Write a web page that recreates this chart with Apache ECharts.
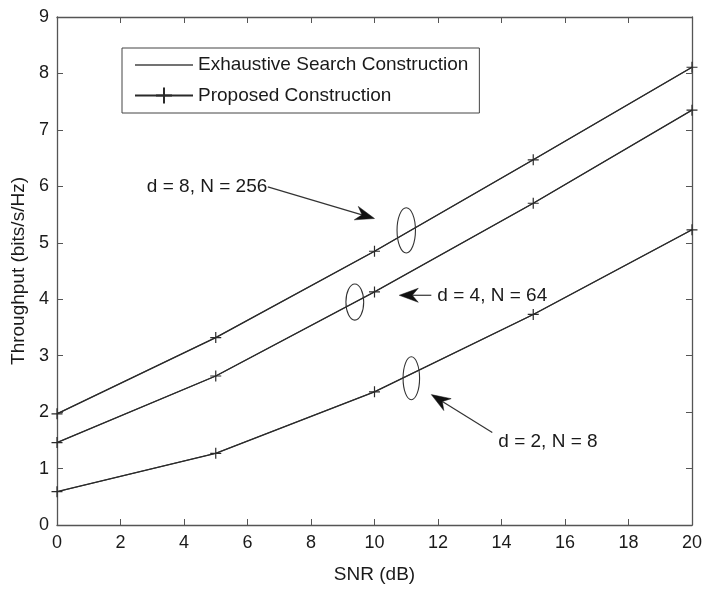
<!DOCTYPE html>
<html>
<head>
<meta charset="utf-8">
<script src="https://cdn.jsdelivr.net/npm/echarts@6/dist/echarts.min.js"></script>
<style>
  html, body { margin: 0; padding: 0; background: #fff; }
  #chart { width: 705px; height: 589px; }
</style>
</head>
<body>
<div id="chart"></div>
<script>
// SNR sample points (dB)
const snr = [0, 5, 10, 15, 20];

// Throughput (bits/s/Hz) for each (d, N) configuration
const exhaustiveD8 = [1.97, 3.32, 4.85, 6.47, 8.11];
const exhaustiveD4 = [1.46, 2.64, 4.13, 5.70, 7.35];
const exhaustiveD2 = [0.59, 1.27, 2.36, 3.73, 5.23];
const proposedD8 = [1.97, 3.32, 4.85, 6.47, 8.11];
const proposedD4 = [1.46, 2.64, 4.13, 5.70, 7.35];
const proposedD2 = [0.59, 1.27, 2.36, 3.73, 5.23];

const xTicks = [0, 2, 4, 6, 8, 10, 12, 14, 16, 18, 20];
const yTicks = [0, 1, 2, 3, 4, 5, 6, 7, 8, 9];

const exhaustiveName = 'Exhaustive Search Construction';
const proposedName = 'Proposed Construction';

// Annotation layout in data coordinates: ellipse groups, labels and arrows
const ellipses = [
  { c: [11.0, 5.22], rx: 0.29, ry: 0.40 },
  { c: [9.38, 3.95], rx: 0.28, ry: 0.32 },
  { c: [11.16, 2.60], rx: 0.26, ry: 0.38 }
];
const labels = [
  { text: 'd = 8, N = 256', at: [2.83, 5.99] },
  { text: 'd = 4, N = 64', at: [11.98, 4.07] },
  { text: 'd = 2, N = 8', at: [13.90, 1.47] }
];
const arrows = [
  { from: [6.64, 5.99], to: [10.0, 5.43] },
  { from: [11.79, 4.07], to: [10.78, 4.07] },
  { from: [13.71, 1.64], to: [11.79, 2.31] }
];

const pair = (ys) => snr.map((x, i) => [x, ys[i]]);
const plusSymbol = 'path://M0,-5L0,5M-5,0L5,0';
// plain line sample for the legend entry without markers
const lineIcon = 'path://M0,9.2L58,9.2L58,10.8L0,10.8Z';
const font = 'Liberation Sans, Arial, sans-serif';
const ink = '#1a1a1a';
const axisGrey = '#555';

function exhaustive(ys) {
  return {
    name: exhaustiveName, type: 'line', data: pair(ys),
    symbol: 'none', clip: false,
    lineStyle: { color: '#444', width: 1.1 },
    itemStyle: { color: '#444' },
    z: 2
  };
}
function proposed(ys) {
  return {
    name: proposedName, type: 'line', data: pair(ys),
    symbol: plusSymbol, symbolSize: 11, clip: false,
    lineStyle: { color: '#2a2a2a', width: 1.3 },
    itemStyle: { color: 'none', borderColor: '#2a2a2a', borderWidth: 1.2 },
    z: 3
  };
}

const chart = echarts.init(document.getElementById('chart'), null, { renderer: 'canvas' });

const tickInside = { show: true, inside: true, length: 6, lineStyle: { color: axisGrey, width: 1 } };
const lineGrey = { show: true, onZero: false, lineStyle: { color: axisGrey, width: 1.3 } };

chart.setOption({
  animation: false,
  backgroundColor: '#fff',
  textStyle: { fontFamily: font },
  grid: { left: 57, right: 12, top: 17, bottom: 57, containLabel: false },
  legend: {
    data: [
      { name: exhaustiveName, icon: lineIcon },
      { name: proposedName }
    ],
    orient: 'vertical',
    left: 122, top: 48,
    padding: [7, 11, 7, 12],
    itemGap: 10,
    itemWidth: 58, itemHeight: 20,
    borderColor: '#444', borderWidth: 1,
    backgroundColor: '#fff',
    textStyle: { fontFamily: font, fontSize: 19, color: ink, lineHeight: 20 }
  },
  xAxis: [
    {
      type: 'value', min: 0, max: 20, interval: 2, position: 'bottom',
      axisLine: lineGrey, axisTick: tickInside, splitLine: { show: false },
      axisLabel: { fontFamily: font, fontSize: 18, color: ink, margin: 9,
        customValues: xTicks },
      name: 'SNR (dB)', nameLocation: 'middle', nameGap: 40,
      nameTextStyle: { fontFamily: font, fontSize: 19, color: ink }
    },
    {
      type: 'value', min: 0, max: 20, interval: 2, position: 'top',
      axisLine: lineGrey, axisTick: tickInside, splitLine: { show: false },
      axisLabel: { show: false }
    }
  ],
  yAxis: [
    {
      type: 'value', min: 0, max: 9, interval: 1, position: 'left',
      axisLine: lineGrey, axisTick: tickInside, splitLine: { show: false },
      axisLabel: { fontFamily: font, fontSize: 18, color: ink, margin: 8,
        customValues: yTicks },
      name: 'Throughput (bits/s/Hz)', nameLocation: 'middle', nameGap: 26,
      nameRotate: 90,
      nameTextStyle: { fontFamily: font, fontSize: 19, color: ink }
    },
    {
      type: 'value', min: 0, max: 9, interval: 1, position: 'right',
      axisLine: lineGrey, axisTick: tickInside, splitLine: { show: false },
      axisLabel: { show: false }
    }
  ],
  series: [
    exhaustive(exhaustiveD8), exhaustive(exhaustiveD4), exhaustive(exhaustiveD2),
    proposed(proposedD8), proposed(proposedD4), proposed(proposedD2)
  ]
});

// Annotations: ellipses around curve groups, text labels and arrows
function toPx(p) { return chart.convertToPixel({ gridIndex: 0 }, p); }

function arrowGraphic(a) {
  const p0 = toPx(a.from), p1 = toPx(a.to);
  const dx = p1[0] - p0[0], dy = p1[1] - p0[1];
  const len = Math.hypot(dx, dy);
  const ux = dx / len, uy = dy / len;
  const nx = -uy, ny = ux;
  const headLen = 19, halfW = 7, notch = 13;
  const base = [p1[0] - ux * headLen, p1[1] - uy * headLen];
  const notchPt = [p1[0] - ux * notch, p1[1] - uy * notch];
  return [
    {
      type: 'line', z: 10,
      shape: { x1: p0[0], y1: p0[1], x2: notchPt[0], y2: notchPt[1] },
      style: { stroke: '#333', lineWidth: 1.2 }
    },
    {
      type: 'polygon', z: 10,
      shape: { points: [
        p1,
        [base[0] + nx * halfW, base[1] + ny * halfW],
        notchPt,
        [base[0] - nx * halfW, base[1] - ny * halfW]
      ] },
      style: { fill: '#111', stroke: '#111', lineWidth: 0.5 }
    }
  ];
}

const graphics = [];
ellipses.forEach(e => {
  const c = toPx(e.c);
  const ex = toPx([e.c[0] + e.rx, e.c[1] + e.ry]);
  graphics.push({
    type: 'ellipse', z: 10,
    shape: { cx: c[0], cy: c[1], rx: Math.abs(ex[0] - c[0]), ry: Math.abs(ex[1] - c[1]) },
    style: { fill: 'none', stroke: '#333', lineWidth: 1.1 }
  });
});
labels.forEach(l => {
  const p = toPx(l.at);
  graphics.push({
    type: 'text', z: 11, x: p[0], y: p[1],
    style: { text: l.text, fill: ink, font: '19px ' + font,
      textAlign: 'left', textVerticalAlign: 'middle' }
  });
});
arrows.forEach(a => arrowGraphic(a).forEach(g => graphics.push(g)));

chart.setOption({ graphic: graphics });
</script>
</body>
</html>
